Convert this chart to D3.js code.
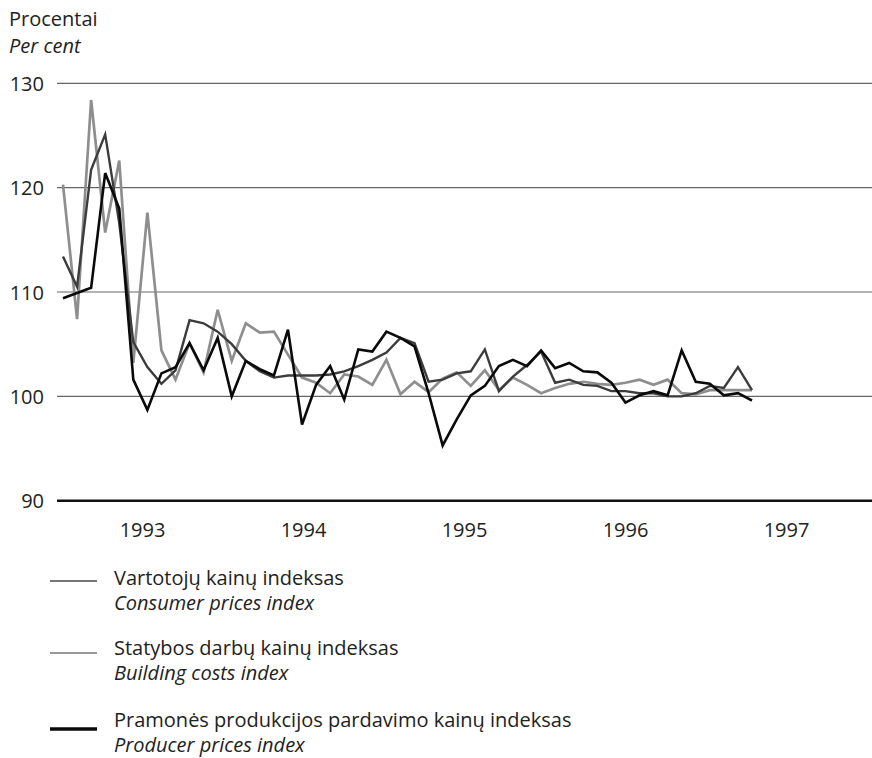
<!DOCTYPE html>
<html>
<head>
<meta charset="utf-8">
<script src="https://cdn.jsdelivr.net/npm/d3@7/dist/d3.min.js"></script>
<style>
  html, body { margin: 0; padding: 0; background: #fff; }
  svg { display: block; font-family: "Open Sans", "DejaVu Sans", sans-serif; }
</style>
</head>
<body>
<svg id="chart" width="872" height="758"></svg>
<script>
// Monthly price indices, previous month = 100 (50 months, late 1992 – early 1997)
const consumer = [
  113.4, 110.5, 121.7, 125.1, 116.6, 105.2, 102.8, 101.2, 102.5, 107.3,
  107.0, 106.2, 105.0, 103.4, 102.4, 101.8, 102.0, 102.0, 102.0, 102.1,
  102.4, 102.9, 103.5, 104.2, 105.6, 105.1, 101.4, 101.6, 102.2, 102.4,
  104.5, 100.5, 101.9, 103.0, 104.3, 101.3, 101.6, 101.1, 101.0, 100.5,
  100.5, 100.3, 100.3, 100.0, 100.0, 100.3, 101.0, 100.8, 102.8, 100.6
];
const building = [
  120.3, 107.4, 128.4, 115.7, 122.6, 103.2, 117.6, 104.4, 101.6, 105.1,
  102.3, 108.3, 103.4, 107.0, 106.1, 106.2, 104.0, 101.8, 101.3, 100.3,
  102.1, 101.9, 101.1, 103.5, 100.2, 101.4, 100.4, 101.7, 102.3, 101.0,
  102.5, 100.6, 101.8, 101.1, 100.3, 100.8, 101.2, 101.4, 101.2, 101.1,
  101.3, 101.6, 101.1, 101.6, 100.3, 100.2, 100.6, 100.6, 100.6, 100.6
];
const producer = [
  109.4, 109.9, 110.4, 121.4, 118.0, 101.6, 98.7, 102.2, 102.8, 105.1,
  102.5, 105.6, 100.0, 103.4, 102.6, 102.0, 106.4, 97.3, 101.1, 102.9,
  99.7, 104.5, 104.3, 106.2, 105.6, 104.8, 100.3, 95.3, 97.8, 100.1,
  101.0, 102.9, 103.5, 102.9, 104.4, 102.7, 103.2, 102.4, 102.3, 101.3,
  99.4, 100.1, 100.5, 100.1, 104.4, 101.4, 101.2, 100.1, 100.3, 99.6
];
const yTicks = [90, 100, 110, 120, 130];
const years = [1993, 1994, 1995, 1996, 1997];

const seriesNames = [
  { lt: "Vartotojų kainų indeksas", en: "Consumer prices index" },
  { lt: "Statybos darbų kainų indeksas", en: "Building costs index" },
  { lt: "Pramonės produkcijos pardavimo kainų indeksas", en: "Producer prices index" }
];

const svg = d3.select("#chart");
const FS = 20;

const plotLeft = 57, plotRight = 872;
const y = d3.scaleLinear().domain([90, 130]).range([500.7, 83.3]);
const x = d3.scaleLinear().domain([0, producer.length - 1]).range([63, 752]);
const xYear = d3.scaleLinear().domain([1993, 1997]).range([142, 786]);

// Unit label
svg.append("text").attr("x", 9).attr("y", 26)
  .attr("font-size", FS).attr("fill", "#222").text("Procentai");
svg.append("text").attr("x", 9).attr("y", 53)
  .attr("font-size", FS).attr("font-style", "italic").attr("fill", "#222").text("Per cent");

// Horizontal grid + y labels
const yAxis = d3.axisLeft(y).tickValues(yTicks).tickSize(0).tickPadding(0).tickFormat(d3.format("d"));
const gy = svg.append("g").attr("transform", `translate(44,0)`).call(yAxis);
gy.select(".domain").remove();
gy.selectAll("text").attr("font-size", FS).attr("fill", "#222")
  .attr("font-family", "'Open Sans', sans-serif").attr("dy", "0.36em");

svg.append("g").selectAll("line").data(yTicks).join("line")
  .attr("x1", plotLeft).attr("x2", plotRight)
  .attr("y1", d => y(d)).attr("y2", d => y(d))
  .attr("stroke", d => d === 90 ? "#111" : "#666")
  .attr("stroke-width", d => d === 90 ? 2.6 : 1.2);

// Year labels
const xAxis = d3.axisBottom(xYear).tickValues(years).tickSize(0).tickPadding(0).tickFormat(d3.format("d"));
const gx = svg.append("g").attr("transform", `translate(0,523)`).call(xAxis);
gx.select(".domain").remove();
gx.selectAll("text").attr("font-size", FS).attr("fill", "#222")
  .attr("font-family", "'Open Sans', sans-serif");

// Series lines
const line = d3.line().x((d, i) => x(i)).y(d => y(d));
const styles = [
  { data: consumer, color: "#3c3c3c", width: 2.4 },
  { data: building, color: "#8e8e8e", width: 2.7 },
  { data: producer, color: "#0a0a0a", width: 2.6 }
];
svg.append("g").selectAll("path").data([styles[1], styles[0], styles[2]]).join("path")
  .attr("d", s => line(s.data))
  .attr("fill", "none")
  .attr("stroke", s => s.color)
  .attr("stroke-width", s => s.width)
  .attr("stroke-linejoin", "miter")
  .attr("stroke-miterlimit", 4);

// Legend
const legendY = [581, 653, 729];
const textY = [585, 655, 727];
const legendStyles = [
  { color: "#777", width: 2.2 },
  { color: "#999", width: 2.2 },
  { color: "#0a0a0a", width: 3.4 }
];
const lg = svg.append("g").selectAll("g").data(seriesNames).join("g");
lg.append("line").attr("x1", 50).attr("x2", 97)
  .attr("y1", (d, i) => legendY[i]).attr("y2", (d, i) => legendY[i])
  .attr("stroke", (d, i) => legendStyles[i].color)
  .attr("stroke-width", (d, i) => legendStyles[i].width);
lg.append("text").attr("x", 114).attr("y", (d, i) => textY[i])
  .attr("font-size", FS).attr("fill", "#222").text(d => d.lt);
lg.append("text").attr("x", 114).attr("y", (d, i) => textY[i] + 25)
  .attr("font-size", FS).attr("font-style", "italic").attr("fill", "#222").text(d => d.en);
</script>
</body>
</html>
